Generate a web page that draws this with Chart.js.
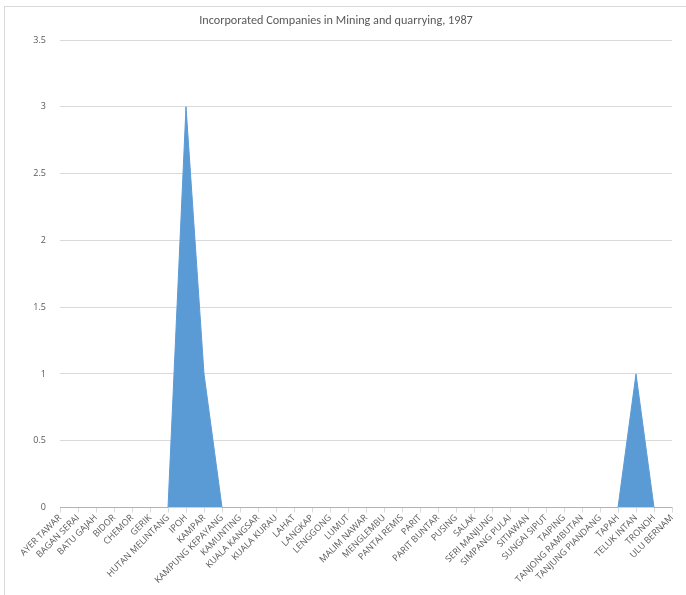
<!DOCTYPE html>
<html>
<head>
<meta charset="utf-8">
<script src="https://cdn.jsdelivr.net/npm/chart.js@4/dist/chart.umd.min.js"></script>
<style>
  html, body { margin: 0; padding: 0; background: #fff; }
  #frame { position: absolute; left: 4px; top: 6px; width: 720px; height: 620px; border: 1px solid #d9d9d9; box-sizing: border-box; }
  #wrap { position: absolute; left: 0; top: 0; width: 686px; height: 595px; }
</style>
</head>
<body>
<div id="frame"></div>
<div id="wrap"><canvas id="c" width="686" height="595"></canvas></div>
<script>
const towns = [
  "AYER TAWAR", "BAGAN SERAI", "BATU GAJAH", "BIDOR", "CHEMOR", "GERIK",
  "HUTAN MELINTANG", "IPOH", "KAMPAR", "KAMPUNG KEPAYANG", "KAMUNTING",
  "KUALA KANGSAR", "KUALA KURAU", "LAHAT", "LANGKAP", "LENGGONG", "LUMUT",
  "MALIM NAWAR", "MENGLEMBU", "PANTAI REMIS", "PARIT", "PARIT BUNTAR",
  "PUSING", "SALAK", "SERI MANJUNG", "SIMPANG PULAI", "SITIAWAN",
  "SUNGAI SIPUT", "TAIPING", "TANJONG RAMBUTAN", "TANJUNG PIANDANG",
  "TAPAH", "TELUK INTAN", "TRONOH", "ULU BERNAM"
];
const companies = [
  0, 0, 0, 0, 0, 0,
  0, 3, 1, 0, 0,
  0, 0, 0, 0, 0, 0,
  0, 0, 0, 0, 0,
  0, 0, 0, 0, 0,
  0, 0, 0, 0,
  0, 1, 0, 0
];
const yTicks = [0, 0.5, 1, 1.5, 2, 2.5, 3, 3.5];

const textGrey = "#595959";
const lineGrey = "#d9d9d9";

new Chart(document.getElementById("c"), {
  type: "line",
  data: {
    labels: towns,
    datasets: [{
      data: companies,
      fill: "origin",
      backgroundColor: "#5b9bd5",
      borderColor: "#5b9bd5",
      borderWidth: 1,
      pointRadius: 0,
      tension: 0
    }]
  },
  options: {
    responsive: false,
    animation: false,
    devicePixelRatio: 1,
    layout: { padding: { left: 0, right: 14, top: 0, bottom: 0 } },
    plugins: {
      legend: { display: false },
      tooltip: { enabled: false },
      title: {
        display: true,
        text: "Incorporated Companies in Mining and quarrying, 1987",
        color: textGrey,
        font: { family: "Calibri, 'Open Sans', 'Liberation Sans', sans-serif", size: 12.2, weight: "normal" },
        padding: { top: 14, bottom: 11.4 }
      }
    },
    scales: {
      x: {
        type: "category",
        offset: false,
        border: { display: true, color: lineGrey, width: 1 },
        grid: { display: true, drawOnChartArea: false, drawTicks: true, tickLength: 5, color: lineGrey },
        ticks: {
          autoSkip: false,
          minRotation: 45,
          maxRotation: 45,
          padding: 0,
          color: textGrey,
          font: { family: "'Open Sans', 'Liberation Sans', sans-serif", size: 9 }
        },
        afterFit: (s) => { s.height = 87.5; }
      },
      y: {
        min: 0,
        max: 3.5,
        border: { display: false },
        grid: { color: lineGrey, drawTicks: false },
        afterBuildTicks: (s) => { s.ticks = yTicks.map(v => ({ value: v })); },
        ticks: {
          padding: 14,
          color: textGrey,
          font: { family: "'Open Sans', 'Liberation Sans', sans-serif", size: 9 },
          callback: (v) => String(v)
        },
        afterFit: (s) => { s.width = 60; }
      }
    }
  }
});
</script>
</body>
</html>
